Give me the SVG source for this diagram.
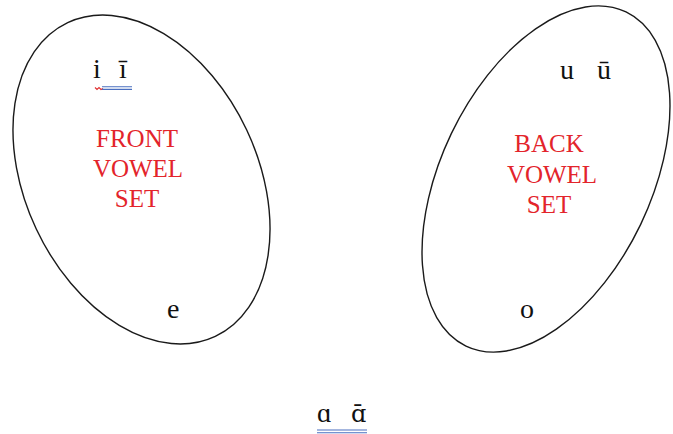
<svg xmlns="http://www.w3.org/2000/svg" width="673" height="434" viewBox="0 0 673 434">
  <style>
    .set { fill: none; stroke: #1a1a1a; stroke-width: 1.4; }
    .glyph { font-family: "Liberation Serif", "DejaVu Serif", serif; font-size: 28px; fill: #111; }
    .mark { font-family: "DejaVu Serif", serif; font-size: 24px; fill: #111; }
    .label { font-family: "Liberation Serif", "DejaVu Serif", serif; font-size: 25px; fill: #e3242b; text-anchor: middle; }
    .dbl { stroke: #4a6fc0; stroke-width: 1.1; fill: none; }
    .squig { stroke: #e03030; stroke-width: 1.1; fill: none; }
  </style>
  <rect width="673" height="434" fill="#ffffff"/>

  <!-- front vowel set -->
  <g id="front-set">
    <ellipse class="set" cx="141.5" cy="179.5" rx="116.3" ry="173.3" transform="rotate(-25.2 141.5 179.5)"/>
    <text class="glyph"><tspan x="93" y="78">i</tspan><tspan x="119" y="78">ī</tspan></text>
    <path class="squig" d="M95 87.5 l2 2 l2 -2 l2 2 l2 -1"/>
    <path class="dbl" d="M102 86.8 H132 M102 89.4 H132"/>
    <text class="label" x="137" y="147">FRONT</text>
    <text class="label" x="138" y="177">VOWEL</text>
    <text class="label" x="137" y="207">SET</text>
    <text class="glyph" x="167" y="318">e</text>
  </g>

  <!-- back vowel set -->
  <g id="back-set">
    <ellipse class="set" cx="546" cy="179" rx="105" ry="185.2" transform="rotate(25.6 546 179)"/>
    <text class="glyph"><tspan x="560" y="79">u</tspan><tspan x="597" y="79">ū</tspan></text>
    <text class="label" x="549" y="152">BACK</text>
    <text class="label" x="552" y="183">VOWEL</text>
    <text class="label" x="549" y="213">SET</text>
    <text class="glyph" x="520" y="318">o</text>
  </g>

  <!-- low central vowels -->
  <g id="central">
    <text class="glyph" x="317" y="422">ɑ</text>
    <text class="mark" x="351" y="422">ɑ̄</text>
    <path class="dbl" d="M317 430 H367 M317 432.8 H367"/>
  </g>
</svg>
